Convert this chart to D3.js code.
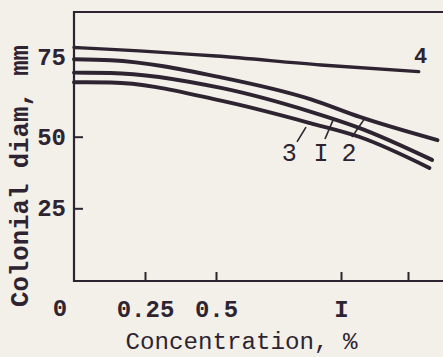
<!DOCTYPE html>
<html>
<head>
<meta charset="utf-8">
<script src="https://cdn.jsdelivr.net/npm/d3@7"></script>
<style>
  html, body { margin: 0; padding: 0; background: #f2f0e8; }
  svg { display: block; }
</style>
</head>
<body>
<svg id="chart" width="443" height="357"></svg>
<script>
// Colony diameter (mm) against concentration (%) for four series.
const seriesNames = ["4", "2", "I", "3"];

const conc4 = [0, 0.13, 0.5, 0.92, 1.29];
const diam4 = [78.0, 77.4, 75.3, 72.5, 70.4];

const conc2 = [0, 0.13, 0.52, 0.88, 1.07, 1.36];
const diam2 = [74.3, 74.0, 68.6, 61.7, 56.2, 48.8];

const conc1 = [0, 0.13, 0.52, 0.88, 1.07, 1.34];
const diam1 = [70.1, 70.0, 65.3, 57.8, 52.7, 41.9];

const conc3 = [0, 0.13, 0.52, 0.88, 1.07, 1.33];
const diam3 = [67.1, 67.0, 61.3, 54.2, 49.9, 39.1];

// Axis ticks
const xTicks = [0.25, 0.5, 1, 1.25];
const xTickLabels = ["0.25", "0.5", "I", ""];
const yTicks = [25, 50, 75];
const yTickLabels = ["25", "50", "75"];

// Series labels with leader lines, in data units
const labelText = ["4", "3", "I", "2"];
const labelConc = [1.297, 0.793, 0.92, 1.03];
const labelDiam = [75.6, 44.5, 44.5, 44.7];
const leaderFromConc = [null, 0.824, 0.936, 1.041];
const leaderFromDiam = [null, 48.2, 49.2, 49.9];
const leaderToConc = [null, 0.86, 0.968, 1.09];
const leaderToDiam = [null, 53.0, 55.2, 55.9];

const ink = "#2e2431";
const mono = "'Liberation Mono', 'Courier New', monospace";

const svg = d3.select("#chart");

// The hand-ruled axes are not evenly spaced, so both scales are piecewise linear.
const x = d3.scaleLinear()
  .domain([0, 0.25, 0.5, 1, 1.25])
  .range([74, 145, 216, 341, 408]);
const y = d3.scaleLinear()
  .domain([0, 25, 50, 75])
  .range([280.5, 208.3, 136.7, 57]);

const plotLeft = x(0), plotBottom = 281, plotTop = 12, plotRight = 443;

// Frame: left axis, bottom axis, top rule
svg.append("path")
  .attr("d", `M${plotRight},${plotTop}H${plotLeft}V${plotBottom}H${plotRight}`)
  .attr("fill", "none").attr("stroke", ink).attr("stroke-width", 2.2);

// X axis
const xAxis = d3.axisBottom(x)
  .tickValues(xTicks)
  .tickFormat((d, i) => xTickLabels[i])
  .tickSizeInner(-9).tickSizeOuter(0).tickPadding(19);
const gx = svg.append("g").attr("transform", `translate(0,${plotBottom})`).call(xAxis);
gx.select(".domain").remove();
gx.selectAll(".tick line").attr("stroke", ink).attr("stroke-width", 2);
gx.selectAll(".tick text")
  .attr("fill", ink).attr("font-family", mono).attr("font-size", 24).attr("font-weight", "bold");

// Y axis
const yAxis = d3.axisLeft(y)
  .tickValues(yTicks)
  .tickFormat((d, i) => yTickLabels[i])
  .tickSizeInner(-9).tickSizeOuter(0).tickPadding(8);
const gy = svg.append("g").attr("transform", `translate(${plotLeft},0)`).call(yAxis);
gy.select(".domain").remove();
gy.selectAll(".tick line").attr("stroke", ink).attr("stroke-width", 2)
  .attr("opacity", d => d === 75 ? 0 : 1);
gy.selectAll(".tick text")
  .attr("fill", ink).attr("font-family", mono).attr("font-size", 24).attr("font-weight", "bold");

// Origin label
svg.append("text")
  .attr("x", x(0) - 14).attr("y", 316)
  .attr("text-anchor", "middle")
  .attr("fill", ink).attr("font-family", mono).attr("font-size", 24).attr("font-weight", "bold")
  .text("0");

// Axis titles
svg.append("text")
  .attr("x", 241.5).attr("y", 349)
  .attr("text-anchor", "middle")
  .attr("fill", ink).attr("font-family", mono).attr("font-size", 23)
  .attr("textLength", 232).attr("lengthAdjust", "spacingAndGlyphs")
  .text("Concentration, %");

svg.append("text")
  .attr("transform", "translate(28,176) rotate(-90)")
  .attr("text-anchor", "middle")
  .attr("fill", ink).attr("font-family", mono).attr("font-size", 25).attr("font-weight", "bold")
  .attr("textLength", 262).attr("lengthAdjust", "spacingAndGlyphs")
  .text("Colonial diam, mm");

// Curves
const series = [
  { name: seriesNames[0], conc: conc4, diam: diam4, width: 3.4 },
  { name: seriesNames[1], conc: conc2, diam: diam2, width: 3.9 },
  { name: seriesNames[2], conc: conc1, diam: diam1, width: 3.9 },
  { name: seriesNames[3], conc: conc3, diam: diam3, width: 3.9 }
];
const line = d3.line()
  .x(d => x(d[0])).y(d => y(d[1]))
  .curve(d3.curveMonotoneX);

svg.append("g").selectAll("path")
  .data(series)
  .join("path")
  .attr("d", s => line(d3.zip(s.conc, s.diam)))
  .attr("fill", "none")
  .attr("stroke", ink)
  .attr("stroke-width", s => s.width)
  .attr("stroke-linecap", "round");

// Leader lines and series labels
const ann = svg.append("g");
labelText.forEach((t, i) => {
  if (leaderFromConc[i] !== null) {
    ann.append("line")
      .attr("x1", x(leaderFromConc[i])).attr("y1", y(leaderFromDiam[i]))
      .attr("x2", x(leaderToConc[i])).attr("y2", y(leaderToDiam[i]))
      .attr("stroke", ink).attr("stroke-width", 1.6);
  }
  ann.append("text")
    .attr("x", x(labelConc[i])).attr("y", y(labelDiam[i]))
    .attr("dy", "0.36em")
    .attr("text-anchor", "middle")
    .attr("fill", ink).attr("font-family", mono)
    .attr("font-size", i === 0 ? 22 : 25)
    .attr("font-weight", i === 0 ? "bold" : "normal")
    .text(t);
});
</script>
</body>
</html>
